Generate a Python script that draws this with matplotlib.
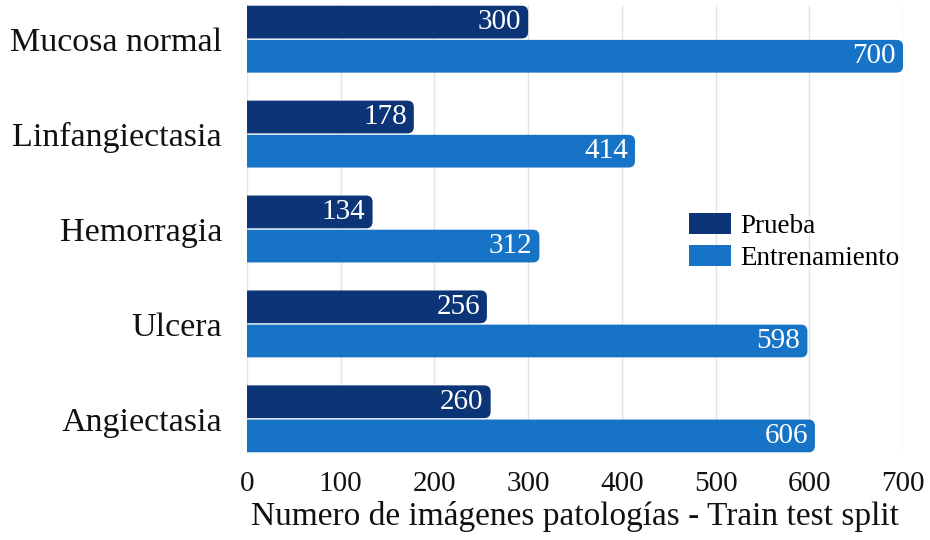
import matplotlib
matplotlib.use("Agg")
import matplotlib.pyplot as plt
from matplotlib.patches import FancyBboxPatch, Patch

categories = ["Mucosa normal", "Linfangiectasia", "Hemorragia", "Ulcera", "Angiectasia"]
prueba = [300, 178, 134, 256, 260]
entrenamiento = [700, 414, 312, 598, 606]
xticks = [0, 100, 200, 300, 400, 500, 600, 700]

dark = "#0b3577"
light = "#1673c6"

plt.rcParams["font.family"] = ["Liberation Serif", "DejaVu Serif"]

fig = plt.figure(figsize=(9.3, 5.4), dpi=100)
ax = fig.add_axes([247 / 930, 1 - 453 / 540, (903 - 247) / 930, 448 / 540])

ymin, ymax = -0.36, 4.36
xmax = 700
ax.set_xlim(0, xmax)
ax.set_ylim(ymin, ymax)

# aspect so the rounded ends stay circular in pixels
w_px = fig.get_figwidth() * fig.dpi * ax.get_position().width
h_px = fig.get_figheight() * fig.dpi * ax.get_position().height
aspect = (w_px / xmax) / (h_px / (ymax - ymin))
r = 6.5 * xmax / w_px

h = 0.345
off = 0.18
n = len(categories)
for i, (p, e) in enumerate(zip(prueba, entrenamiento)):
    yc = n - 1 - i
    for val, y, col in ((p, yc + off, dark), (e, yc - off, light)):
        ax.add_patch(FancyBboxPatch((-30, y - h / 2), val + 30, h,
                                    boxstyle=f"round,pad=0,rounding_size={r}",
                                    mutation_aspect=aspect, fc=col, ec="none", zorder=3))
        ax.annotate(str(val), (val, y), xytext=(-7, 0), textcoords="offset pixels",
                    ha="right", va="center", color="white", fontsize=21, zorder=4)

ax.set_yticks([n - 1 - i for i in range(n)])
ax.set_yticklabels(categories, fontsize=24.5, color="#111111")
ax.set_xticks(xticks)
ax.set_xticklabels([str(t) for t in xticks], fontsize=21, color="#111111")
ax.tick_params(length=0)
ax.tick_params(axis="x", pad=13)
ax.tick_params(axis="y", pad=18)
ax.xaxis.grid(True, color="#e3e3e3", lw=1, zorder=0)
for s in ax.spines.values():
    s.set_visible(False)
ax.set_xlabel("Numero de imágenes patologías - Train test split", fontsize=24, color="#111111", labelpad=3)

handles = [Patch(fc=dark, ec="none"), Patch(fc=light, ec="none")]
ax.legend(handles, ["Prueba", "Entrenamiento"], loc="upper left",
          bbox_to_anchor=(0.636, 0.59), frameon=False, fontsize=19.5,
          handlelength=1.55, handleheight=0.8, handletextpad=0.35, labelspacing=0.22)

fig.savefig("out.png", dpi=100)
